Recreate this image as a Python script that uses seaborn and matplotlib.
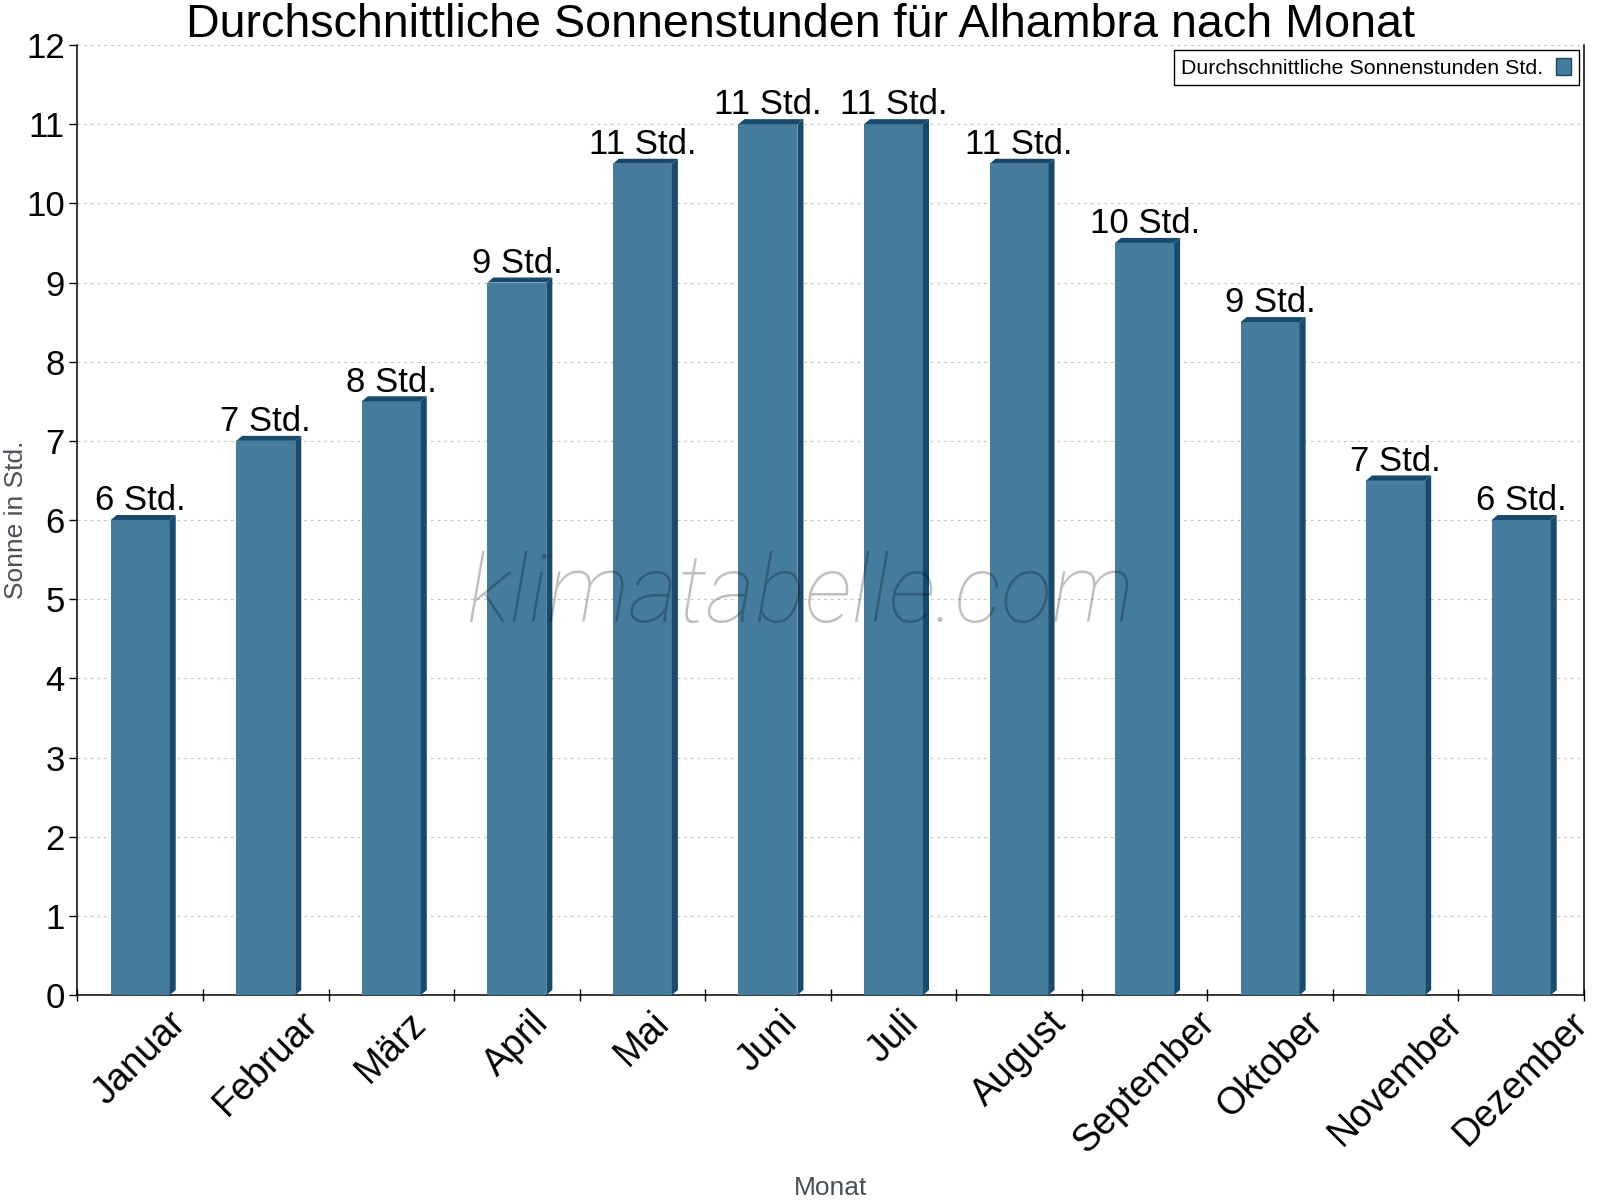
#!/usr/bin/env python3

import numpy as np
import matplotlib
matplotlib.use("Agg")
import matplotlib.pyplot as plt
from matplotlib.patches import Polygon, Patch
import seaborn as sns

# Data
months = ["Januar", "Februar", "März", "April", "Mai", "Juni", "Juli",
          "August", "September", "Oktober", "November", "Dezember"]
sun_hours = [6, 7, 7.5, 9, 10.5, 11, 11, 10.5, 9.5, 8.5, 6.5, 6]
bar_labels = ["6 Std.", "7 Std.", "8 Std.", "9 Std.", "11 Std.", "11 Std.",
              "11 Std.", "11 Std.", "10 Std.", "9 Std.", "7 Std.", "6 Std."]
yticks = list(range(0, 13))

FRONT = "#457b9d"
SIDE = "#174a6c"

sns.set_style("white")
plt.rcParams['font.family'] = ['Liberation Sans', 'DejaVu Sans']

fig = plt.figure(figsize=(16, 12), dpi=100)
ax = fig.add_axes([0.0484, 0.1708, 0.9416, 0.7917])

sns.barplot(x=months, y=sun_hours, color=FRONT, saturation=1, width=0.47,
            linewidth=0, ax=ax, zorder=3)
ax.set_xlim(-0.5, 11.5)
ax.set_ylim(0, 12)

# 3D look: side and top faces offset in pixels from each bar
dx, dy = 6, 5
to_disp = ax.transData
to_data = ax.transData.inverted()
for bar in ax.patches[:len(months)]:
    x0 = bar.get_x()
    x1 = x0 + bar.get_width()
    top = bar.get_height()
    (px0, py0), (px1, ptop) = to_disp.transform([(x0, 0), (x1, top)])
    side = [(px1, py0), (px1 + dx, py0 + dy), (px1 + dx, ptop + dy), (px1, ptop)]
    cap = [(px0, ptop), (px0 + dx, ptop + dy), (px1 + dx, ptop + dy), (px1, ptop)]
    for pts in (side, cap):
        ax.add_patch(Polygon(to_data.transform(pts), closed=True, facecolor=SIDE,
                             edgecolor="none", zorder=3, clip_on=False))

# value labels above bars
for bar, lab in zip(ax.patches[:len(months)], bar_labels):
    ax.annotate(lab, (bar.get_x() + bar.get_width() / 2, bar.get_height()),
                xytext=(0, 7), textcoords="offset points", ha="center",
                va="baseline", fontsize=25, color="black", zorder=5)

# grid, ticks, spines
ax.set_yticks(yticks)
ax.yaxis.grid(True, linestyle=(0, (2.5, 3.5)), color="#c4c4c4", linewidth=0.8)
ax.xaxis.grid(False)
ax.set_axisbelow(True)
ax.set_xticks(np.arange(-0.5, 12, 1), minor=True)
ax.tick_params(axis="x", which="major", length=0, pad=7, labelsize=27,
               labelrotation=45, labelcolor="black")
ax.tick_params(axis="x", which="minor", bottom=True, length=9, direction="inout",
               width=1, color="black")
ax.tick_params(axis="y", which="major", length=6, direction="out", width=1,
               color="black", pad=3, labelsize=25, left=True, labelcolor="black")
for s in ("left", "bottom", "right"):
    ax.spines[s].set_visible(True)
    ax.spines[s].set_color("black")
    ax.spines[s].set_linewidth(1.1)
ax.spines["top"].set_visible(False)

ax.set_xlabel("Monat", fontsize=19, color="#4a5058")
ax.set_ylabel("Sonne in Std.", fontsize=19, color="#4a5058")
ax.xaxis.set_label_coords(0.5, -0.19)
ax.yaxis.set_label_coords(-0.033, 0.5)

fig.text(0.5, 1 - 37 / 1200, "Durchschnittliche Sonnenstunden für Alhambra nach Monat",
         ha="center", va="baseline", fontsize=33.6, color="black")

# watermark
fig.text(0.5, 0.503, "klimatabelle.com", ha="center", va="center", fontsize=68,
         family=["Roboto", "DejaVu Sans"], style="italic", weight="light",
         color="black", alpha=0.25, zorder=10)

handle = Patch(facecolor=FRONT, edgecolor=SIDE, linewidth=1)
leg = ax.legend([handle], ["Durchschnittliche Sonnenstunden Std."], loc="upper right",
                fontsize=15.4, markerfirst=False, frameon=True, fancybox=False,
                handlelength=0.7, handleheight=0.85, handletextpad=0.6,
                borderaxespad=0.25, borderpad=0.35, labelcolor="black")
leg.get_frame().set_edgecolor("black")
leg.get_frame().set_linewidth(1)
leg.get_frame().set_alpha(1)

fig.savefig("out.png", dpi=100)
